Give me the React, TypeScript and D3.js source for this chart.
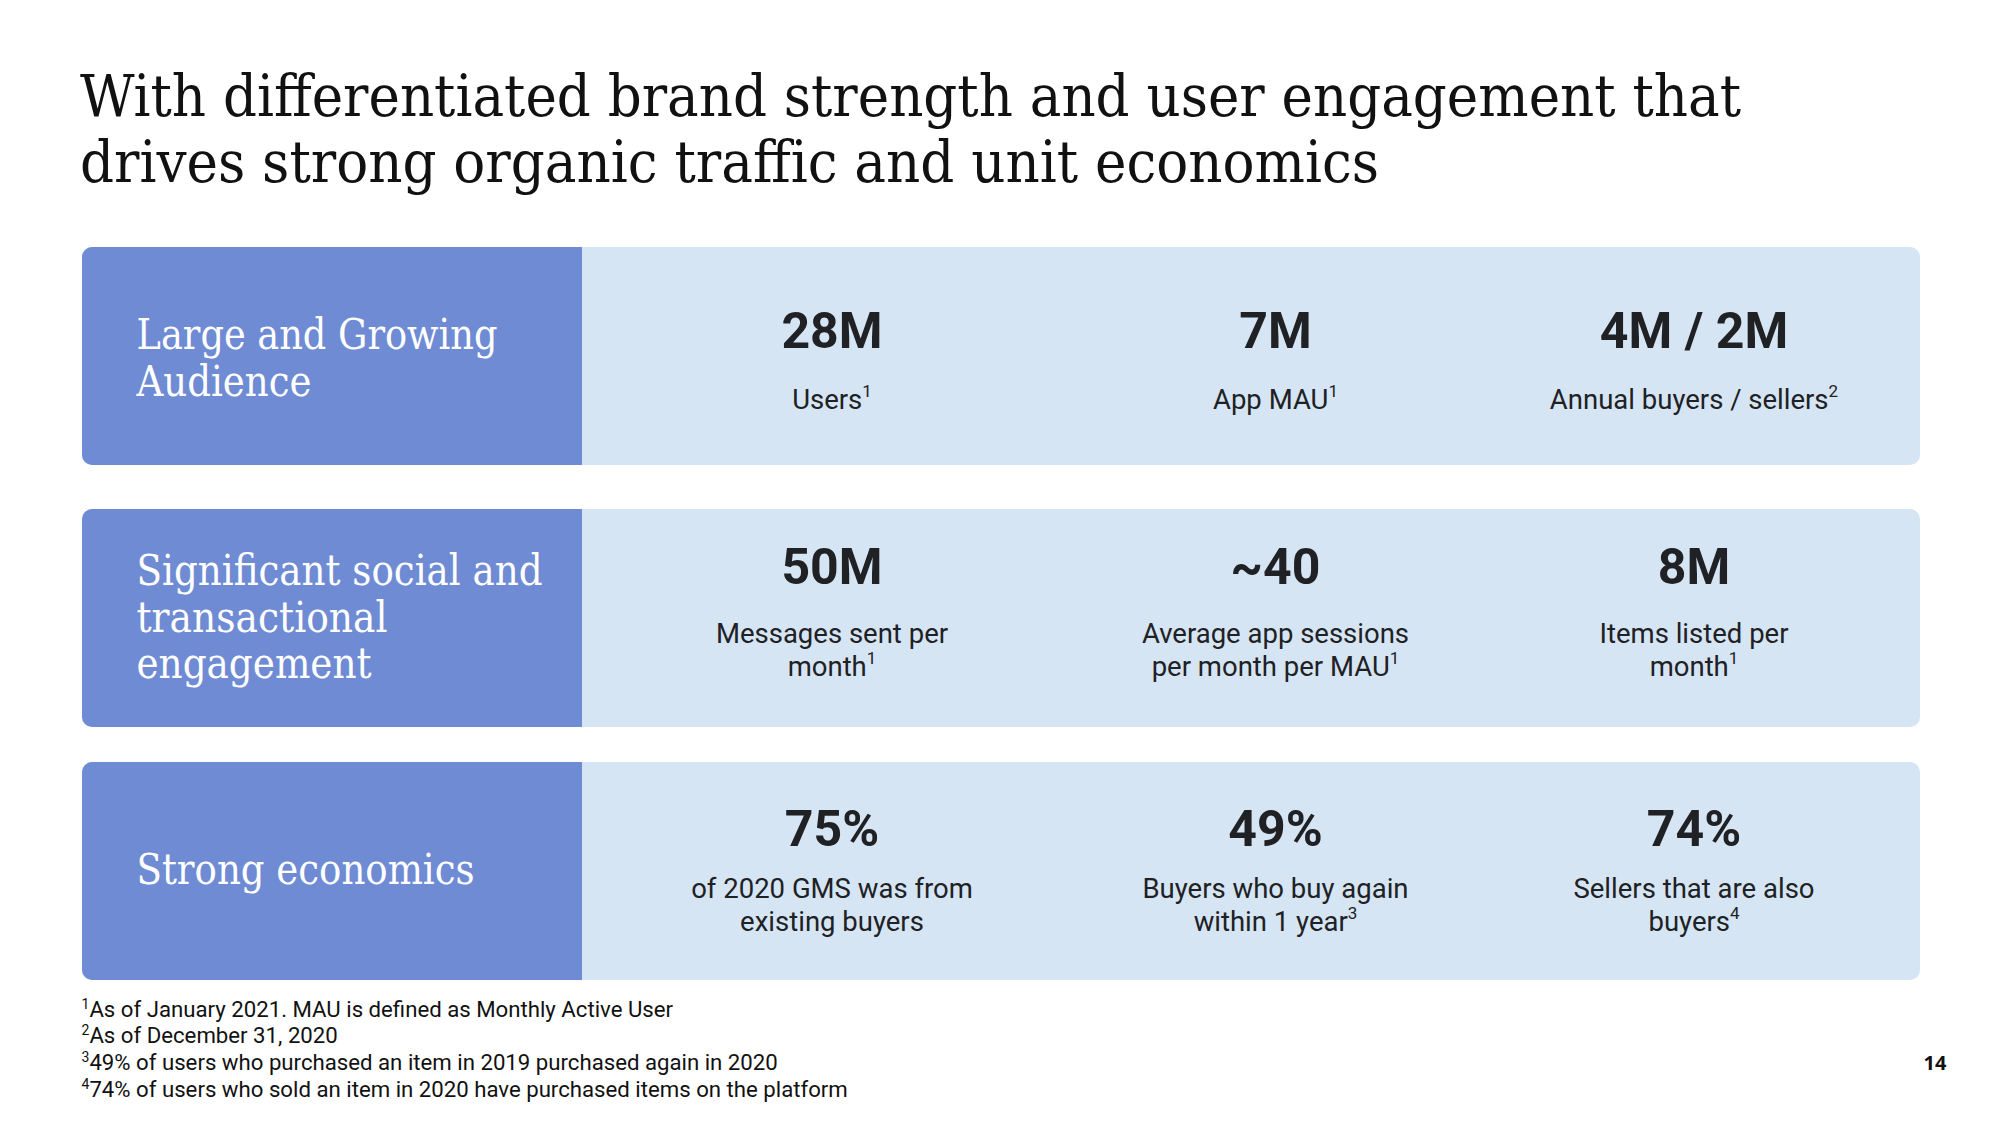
import React from "react";
import * as d3 from "d3";

// ---------- data ----------
const titleLines = [
  "With differentiated brand strength and user engagement that",
  "drives strong organic traffic and unit economics",
];
const rowIds = ["audience", "engagement", "economics"];
const rowLabels = [
  ["Large and Growing", "Audience"],
  ["Significant social and", "transactional", "engagement"],
  ["Strong economics"],
];
const metricValues = [
  ["28M", "7M", "4M / 2M"],
  ["50M", "~40", "8M"],
  ["75%", "49%", "74%"],
];
// "^n" marks a superscript footnote reference
const metricLabels = [
  [["Users^1"], ["App MAU^1"], ["Annual buyers / sellers^2"]],
  [
    ["Messages sent per", "month^1"],
    ["Average app sessions", "per month per MAU^1"],
    ["Items listed per", "month^1"],
  ],
  [
    ["of 2020 GMS was from", "existing buyers"],
    ["Buyers who buy again", "within 1 year^3"],
    ["Sellers that are also", "buyers^4"],
  ],
];
const footnoteMarks = ["1", "2", "3", "4"];
const footnoteTexts = [
  "As of January 2021. MAU is defined as Monthly Active User",
  "As of December 31, 2020",
  "49% of users who purchased an item in 2019 purchased again in 2020",
  "74% of users who sold an item in 2020 have purchased items on the platform",
];
const pageNumber = "14";

// ---------- layout ----------
const W = 2000;
const H = 1125;
const panelX0 = 82;
const panelX1 = 1920;
const splitX = 582;
const rowH = 218;
const radius = 10;
const rowTopRange = [247, 509, 762];
const colCenterRange = [832, 1275.5, 1694];
const numberOffset = [101, 75, 84];
const subOffset = [162, 134, 136];
const subLineH = 32.5;
const labelOffset = [102, 76, 122];
const labelLineH = 46.5;
const titleWidths = [1661, 1299];
const labelWidths = [[361, 175], [406, 251, 235], [338]];

const DARK = "#6f8bd4";
const LIGHT = "#d6e5f4";
const TEXT = "#202124";
const SERIF = "'DejaVu Serif Condensed', 'DejaVu Serif', serif";
const SANS = "Roboto, 'Noto Sans', sans-serif";

const rowY = d3.scaleOrdinal<string, number>().domain(rowIds).range(rowTopRange);
const colX = d3
  .scaleOrdinal<number, number>()
  .domain([0, 1, 2])
  .range(colCenterRange);

function withSup(s: string, supSize: number, rise: number) {
  const [main, sup] = s.split("^");
  if (!sup) return <>{main}</>;
  return (
    <>
      {main}
      <tspan fontSize={supSize} dy={-rise}>
        {sup}
      </tspan>
    </>
  );
}

function leftPanelPath(x0: number, x1: number, y0: number, h: number, r: number) {
  const p = d3.path();
  p.moveTo(x1, y0);
  p.lineTo(x0 + r, y0);
  p.arcTo(x0, y0, x0, y0 + r, r);
  p.lineTo(x0, y0 + h - r);
  p.arcTo(x0, y0 + h, x0 + r, y0 + h, r);
  p.lineTo(x1, y0 + h);
  p.closePath();
  return p.toString();
}

export default function App() {
  return (
    <svg
      width={W}
      height={H}
      viewBox={`0 0 ${W} ${H}`}
      style={{ position: "absolute", left: 0, top: 0, background: "#fff" }}
    >
      <rect x={0} y={0} width={W} height={H} fill="#fff" />
      {/* title */}
      {titleLines.map((t, i) => (
        <text
          key={i}
          x={80}
          y={116 + i * 66}
          fontFamily={SERIF}
          fontSize={58}
          fill="#111"
          textLength={titleWidths[i]}
          lengthAdjust="spacingAndGlyphs"
        >
          {t}
        </text>
      ))}

      {rowIds.map((id, r) => {
        const y0 = rowY(id);
        return (
          <g key={id}>
            <rect
              x={panelX0}
              y={y0}
              width={panelX1 - panelX0}
              height={rowH}
              rx={radius}
              ry={radius}
              fill={LIGHT}
            />
            <path d={leftPanelPath(panelX0, splitX, y0, rowH, radius)} fill={DARK} />
            {rowLabels[r].map((line, li) => (
              <text
                key={li}
                x={136.5}
                y={y0 + labelOffset[r] + li * labelLineH}
                fontFamily={SERIF}
                fontSize={42}
                fill="#fff"
                textLength={labelWidths[r][li]}
                lengthAdjust="spacingAndGlyphs"
              >
                {line}
              </text>
            ))}
            {metricValues[r].map((v, c) => (
              <g key={c}>
                <text
                  x={colX(c)}
                  y={y0 + numberOffset[r]}
                  textAnchor="middle"
                  fontFamily={SANS}
                  fontWeight={700}
                  fontSize={50}
                  fill={TEXT}
                >
                  {v}
                </text>
                {metricLabels[r][c].map((line, li) => (
                  <text
                    key={li}
                    x={colX(c)}
                    y={y0 + subOffset[r] + li * subLineH}
                    textAnchor="middle"
                    fontFamily={SANS}
                    fontSize={27.5}
                    fill={TEXT}
                  >
                    {withSup(line, 17, 12)}
                  </text>
                ))}
              </g>
            ))}
          </g>
        );
      })}

      {/* footnotes */}
      {footnoteTexts.map((t, i) => (
        <text
          key={i}
          x={81.5}
          y={1016.5 + i * 26.8}
          fontFamily={SANS}
          fontSize={22.2}
          fill="#111"
        >
          <tspan fontSize={14} dy={-8}>
            {footnoteMarks[i]}
          </tspan>
          <tspan dy={8}>{t}</tspan>
        </text>
      ))}

      <text
        x={1935}
        y={1070}
        textAnchor="middle"
        fontFamily="'Open Sans', 'Noto Sans', sans-serif"
        fontWeight={700}
        fontSize={20}
        fill="#111"
      >
        {pageNumber}
      </text>
    </svg>
  );
}
